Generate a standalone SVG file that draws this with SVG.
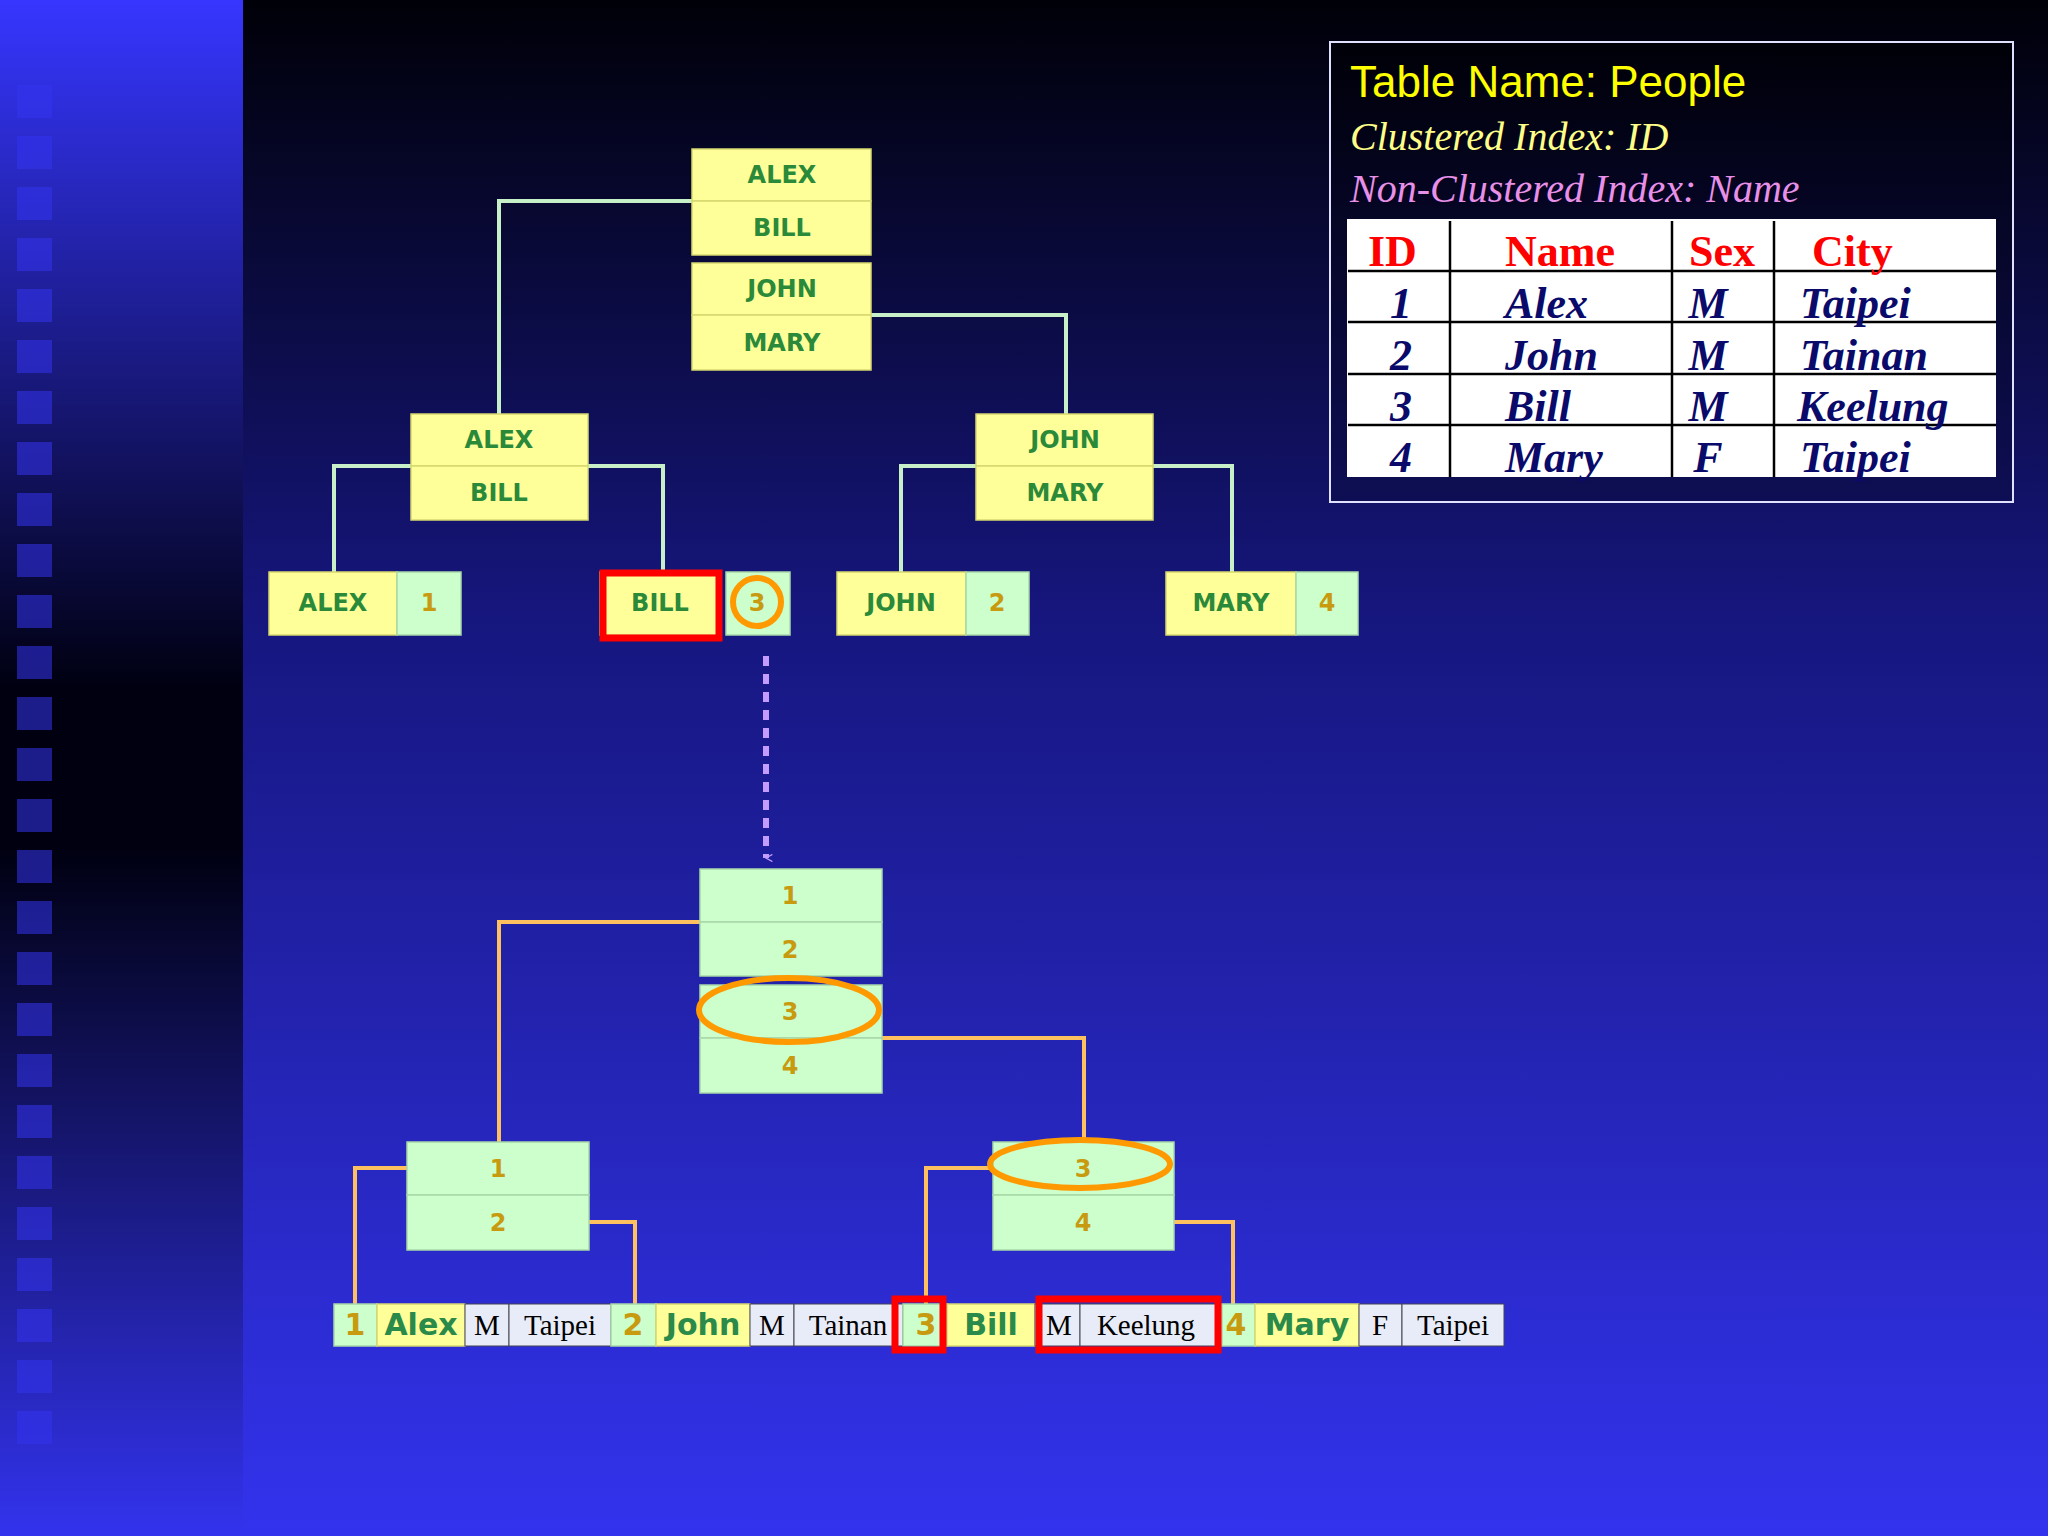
<svg xmlns="http://www.w3.org/2000/svg" width="2048" height="1536" viewBox="0 0 2048 1536">
<defs>
<linearGradient id="bg" x1="0" y1="0" x2="0" y2="1">
<stop offset="0" stop-color="#000008"/><stop offset="0.4" stop-color="#16167e"/><stop offset="1" stop-color="#3333ee"/>
</linearGradient>
<linearGradient id="side" x1="0" y1="0" x2="0" y2="1">
<stop offset="0" stop-color="#3636ff"/><stop offset="0.45" stop-color="#000010"/><stop offset="0.55" stop-color="#000010"/><stop offset="1" stop-color="#3333ee"/>
</linearGradient>
<linearGradient id="box" x1="0" y1="0" x2="0" y2="1">
<stop offset="0" stop-color="#000008"/><stop offset="1" stop-color="#0e0e55"/>
</linearGradient>
<marker id="arr" viewBox="0 0 20 20" refX="10" refY="18" markerWidth="8" markerHeight="8" orient="auto-start-reverse" markerUnits="userSpaceOnUse">
<path d="M1 2 L10 18 L19 2" fill="none" stroke="#c49cff" stroke-width="3"/>
</marker>
<style>
.y{fill:#ffff99;stroke:#d8d870;stroke-width:1.5}
.g{fill:#ccffcc;stroke:#a8d8a8;stroke-width:1.5}
.l{fill:#e8ecf8;stroke:#445;stroke-width:1}
.tn{font-family:"DejaVu Sans",sans-serif;font-weight:bold;font-size:24px;fill:#2a8a3a;text-anchor:middle}
.tg{font-family:"DejaVu Sans",sans-serif;font-weight:bold;font-size:24px;fill:#c89a10;text-anchor:middle}
.gl{fill:none;stroke:#c8f0c8;stroke-width:4}
.ol{fill:none;stroke:#ffc060;stroke-width:4}
.red{fill:none;stroke:#ff0000;stroke-width:7}
.oc{fill:none;stroke:#ff9900;stroke-width:6}
.bn{font-family:"DejaVu Sans",sans-serif;font-weight:bold;font-size:30px;fill:#2a8a4a;text-anchor:middle}
.bd{font-family:"DejaVu Sans",sans-serif;font-weight:bold;font-size:30px;fill:#c89a10;text-anchor:middle}
.bs{font-family:"Liberation Serif",serif;font-size:29px;fill:#000;text-anchor:middle}
.th{font-family:"Liberation Serif",serif;font-weight:bold;font-size:44px;fill:#ff0000}
.td{font-family:"Liberation Serif",serif;font-weight:bold;font-style:italic;font-size:44px;fill:#0a0a6a}
</style>
</defs>
<rect width="2048" height="1536" fill="url(#bg)"/>
<rect width="243" height="1536" fill="url(#side)"/>
<g fill="#3434f0" opacity="0.55">
<rect x="17" y="85" width="35" height="33"/><rect x="17" y="136" width="35" height="33"/><rect x="17" y="187" width="35" height="33"/><rect x="17" y="238" width="35" height="33"/><rect x="17" y="289" width="35" height="33"/><rect x="17" y="340" width="35" height="33"/><rect x="17" y="391" width="35" height="33"/><rect x="17" y="442" width="35" height="33"/><rect x="17" y="493" width="35" height="33"/><rect x="17" y="544" width="35" height="33"/><rect x="17" y="595" width="35" height="33"/><rect x="17" y="646" width="35" height="33"/><rect x="17" y="697" width="35" height="33"/><rect x="17" y="748" width="35" height="33"/><rect x="17" y="799" width="35" height="33"/><rect x="17" y="850" width="35" height="33"/><rect x="17" y="901" width="35" height="33"/><rect x="17" y="952" width="35" height="33"/><rect x="17" y="1003" width="35" height="33"/><rect x="17" y="1054" width="35" height="33"/><rect x="17" y="1105" width="35" height="33"/><rect x="17" y="1156" width="35" height="33"/><rect x="17" y="1207" width="35" height="33"/><rect x="17" y="1258" width="35" height="33"/><rect x="17" y="1309" width="35" height="33"/><rect x="17" y="1360" width="35" height="33"/><rect x="17" y="1411" width="35" height="33"/>
</g>

<g id="info">
<rect x="1330" y="42" width="683" height="460" fill="url(#box)" stroke="#e0e0ff" stroke-width="2"/>
<text x="1350" y="97" font-family="Liberation Sans,sans-serif" font-size="44" fill="#ffff00">Table Name: People</text>
<text x="1350" y="150" font-family="Liberation Serif,serif" font-style="italic" font-size="40" fill="#ffff88">Clustered Index: ID</text>
<text x="1350" y="202" font-family="Liberation Serif,serif" font-style="italic" font-size="40" fill="#e890e8">Non-Clustered Index: Name</text>
<rect x="1347" y="219" width="649" height="258" fill="#fff"/>
<g stroke="#000" stroke-width="2.5">
<line x1="1348" y1="271" x2="1996" y2="271"/><line x1="1348" y1="322" x2="1996" y2="322"/><line x1="1348" y1="374" x2="1996" y2="374"/><line x1="1348" y1="425" x2="1996" y2="425"/>
<line x1="1450" y1="221" x2="1450" y2="477"/><line x1="1672" y1="221" x2="1672" y2="477"/><line x1="1774" y1="221" x2="1774" y2="477"/>
</g>
<text class="th" x="1368" y="266">ID</text><text class="th" x="1505" y="266">Name</text><text class="th" x="1689" y="266">Sex</text><text class="th" x="1812" y="266">City</text>
<text class="td" x="1390" y="318">1</text><text class="td" x="1505" y="318">Alex</text><text class="td" x="1708" y="318" text-anchor="middle">M</text><text class="td" x="1800" y="318">Taipei</text>
<text class="td" x="1390" y="370">2</text><text class="td" x="1505" y="370">John</text><text class="td" x="1708" y="370" text-anchor="middle">M</text><text class="td" x="1800" y="370">Tainan</text>
<text class="td" x="1390" y="421">3</text><text class="td" x="1505" y="421">Bill</text><text class="td" x="1708" y="421" text-anchor="middle">M</text><text class="td" x="1797" y="421">Keelung</text>
<text class="td" x="1390" y="472">4</text><text class="td" x="1505" y="472">Mary</text><text class="td" x="1708" y="472" text-anchor="middle">F</text><text class="td" x="1800" y="472">Taipei</text>
</g>

<g id="connectors">
<polyline class="gl" points="692,201 499,201 499,414"/>
<polyline class="gl" points="871,315 1066,315 1066,414"/>
<polyline class="gl" points="411,466 334,466 334,572"/>
<polyline class="gl" points="588,466 663,466 663,572"/>
<polyline class="gl" points="976,466 901,466 901,572"/>
<polyline class="gl" points="1153,466 1232,466 1232,572"/>
<line x1="766" y1="656" x2="766" y2="858" stroke="#c49cff" stroke-width="6" stroke-dasharray="10,8" marker-end="url(#arr)"/>
<polyline class="ol" points="700,922 499,922 499,1142"/>
<polyline class="ol" points="882,1038 1084,1038 1084,1142"/>
<polyline class="ol" points="407,1168 355,1168 355,1304"/>
<polyline class="ol" points="589,1222 635,1222 635,1304"/>
<polyline class="ol" points="993,1168 926,1168 926,1304"/>
<polyline class="ol" points="1174,1222 1233,1222 1233,1304"/>
</g>

<g id="root-name">
<rect class="y" x="692" y="149" width="179" height="52"/><rect class="y" x="692" y="201" width="179" height="54"/>
<rect class="y" x="692" y="263" width="179" height="52"/><rect class="y" x="692" y="315" width="179" height="55"/>
<text class="tn" x="782" y="183">ALEX</text><text class="tn" x="782" y="236">BILL</text><text class="tn" x="782" y="297">JOHN</text><text class="tn" x="782" y="351">MARY</text>
</g>
<g id="name-left">
<rect class="y" x="411" y="414" width="177" height="52"/><rect class="y" x="411" y="466" width="177" height="54"/>
<text class="tn" x="499" y="448">ALEX</text><text class="tn" x="499" y="501">BILL</text>
</g>
<g id="name-right">
<rect class="y" x="976" y="414" width="177" height="52"/><rect class="y" x="976" y="466" width="177" height="54"/>
<text class="tn" x="1065" y="448">JOHN</text><text class="tn" x="1065" y="501">MARY</text>
</g>
<g id="leaf-alex"><rect class="y" x="269" y="572" width="128" height="63"/><rect class="g" x="397" y="572" width="64" height="63"/>
<text class="tn" x="333" y="611">ALEX</text><text class="tg" x="429" y="611">1</text></g>
<g id="leaf-bill"><rect class="y" x="600" y="572" width="120" height="63"/><rect class="g" x="726" y="572" width="64" height="63"/>
<text class="tn" x="660" y="611">BILL</text><text class="tg" x="757" y="611">3</text>
<rect class="red" x="603" y="573" width="116" height="65"/><circle class="oc" cx="757" cy="602" r="24"/></g>
<g id="leaf-john"><rect class="y" x="837" y="572" width="129" height="63"/><rect class="g" x="966" y="572" width="63" height="63"/>
<text class="tn" x="901" y="611">JOHN</text><text class="tg" x="997" y="611">2</text></g>
<g id="leaf-mary"><rect class="y" x="1166" y="572" width="130" height="63"/><rect class="g" x="1296" y="572" width="62" height="63"/>
<text class="tn" x="1231" y="611">MARY</text><text class="tg" x="1327" y="611">4</text></g>

<g id="root-id">
<rect class="g" x="700" y="869" width="182" height="53"/><rect class="g" x="700" y="922" width="182" height="54"/>
<rect class="g" x="700" y="985" width="182" height="53"/><rect class="g" x="700" y="1038" width="182" height="55"/>
<text class="tg" x="790" y="904">1</text><text class="tg" x="790" y="958">2</text><text class="tg" x="790" y="1020">3</text><text class="tg" x="790" y="1074">4</text>
<ellipse class="oc" cx="789" cy="1010" rx="90" ry="32"/>
</g>
<g id="id-left">
<rect class="g" x="407" y="1142" width="182" height="53"/><rect class="g" x="407" y="1195" width="182" height="55"/>
<text class="tg" x="498" y="1177">1</text><text class="tg" x="498" y="1231">2</text>
</g>
<g id="id-right">
<rect class="g" x="993" y="1142" width="181" height="53"/><rect class="g" x="993" y="1195" width="181" height="55"/>
<text class="tg" x="1083" y="1177">3</text><text class="tg" x="1083" y="1231">4</text>
<ellipse class="oc" cx="1080" cy="1164" rx="90" ry="24"/>
</g>

<g id="data-row">
<rect class="g" x="334" y="1304" width="43" height="42"/><rect class="y" x="377" y="1304" width="88" height="42"/><rect class="l" x="465" y="1304" width="44" height="42"/><rect class="l" x="509" y="1304" width="102" height="42"/>
<rect class="g" x="611" y="1304" width="45" height="42"/><rect class="y" x="656" y="1304" width="94" height="42"/><rect class="l" x="750" y="1304" width="44" height="42"/><rect class="l" x="794" y="1304" width="109" height="42"/>
<rect class="g" x="903" y="1304" width="44" height="42"/><rect class="y" x="947" y="1304" width="88" height="42"/><rect class="l" x="1035" y="1304" width="45" height="42"/><rect class="l" x="1080" y="1304" width="142" height="42"/>
<rect class="g" x="1222" y="1304" width="33" height="42"/><rect class="y" x="1255" y="1304" width="104" height="42"/><rect class="l" x="1359" y="1304" width="43" height="42"/><rect class="l" x="1402" y="1304" width="102" height="42"/>
<text class="bd" x="355" y="1335">1</text><text class="bn" x="421" y="1335">Alex</text><text class="bs" x="487" y="1335">M</text><text class="bs" x="560" y="1335">Taipei</text>
<text class="bd" x="633" y="1335">2</text><text class="bn" x="703" y="1335">John</text><text class="bs" x="772" y="1335">M</text><text class="bs" x="848" y="1335">Tainan</text>
<text class="bd" x="926" y="1335">3</text><text class="bn" x="991" y="1335">Bill</text><text class="bs" x="1059" y="1335">M</text><text class="bs" x="1146" y="1335">Keelung</text>
<text class="bd" x="1236" y="1335">4</text><text class="bn" x="1307" y="1335">Mary</text><text class="bs" x="1380" y="1335">F</text><text class="bs" x="1453" y="1335">Taipei</text>
<rect class="red" x="895" y="1299" width="48" height="51"/><rect class="red" x="1039" y="1299" width="179" height="51"/>
</g>
</svg>
